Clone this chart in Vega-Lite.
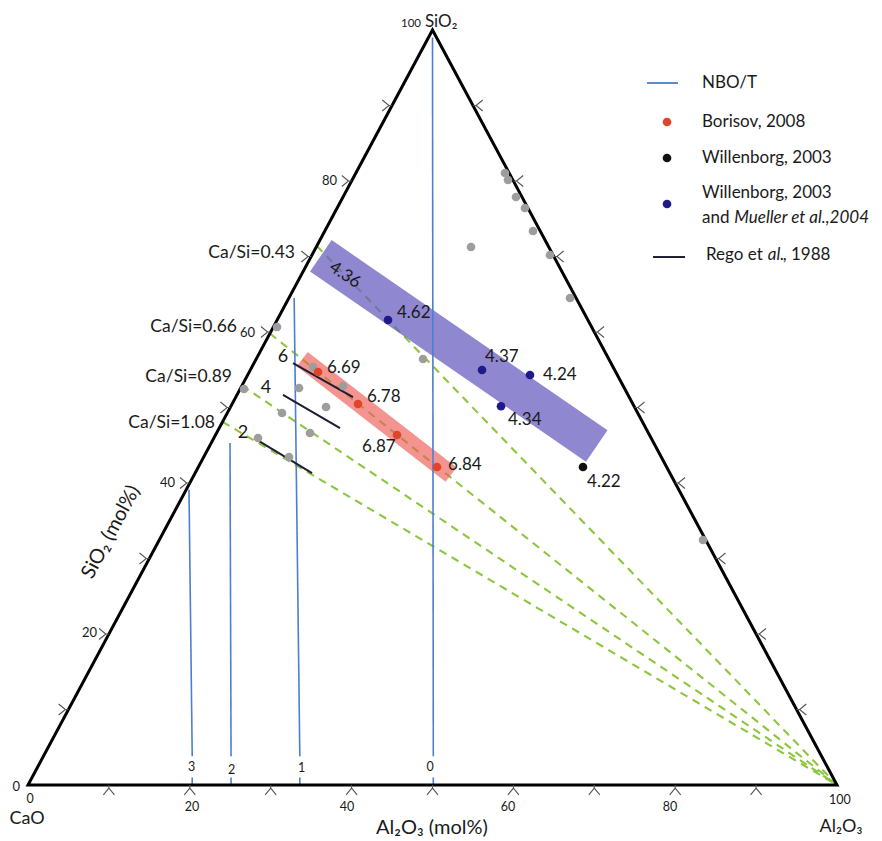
{
  "$schema": "https://vega.github.io/schema/vega-lite/v6.json",
  "width": 809,
  "height": 755,
  "autosize": {"type": "none"},
  "padding": {"left": 28, "top": 30, "right": 45, "bottom": 56},
  "background": "white",
  "config": {"view": {"stroke": null}, "text": {"font": "Lato"}},
  "datasets": {
    "tri": [
      {"o": 0, "x": 0, "y": 0}, {"o": 1, "x": 100, "y": 0}, {"o": 2, "x": 50, "y": 100},
      {"o": 3, "x": 0, "y": 0}, {"o": 4, "x": 1, "y": 0}
    ],
    "nbo": [
      {"k": "0a", "x": 50, "y": 99}, {"k": "0a", "x": 50.1, "y": 3.8},
      {"k": "0b", "x": 50.1, "y": 1.0}, {"k": "0b", "x": 50.1, "y": 0},
      {"k": "1a", "x": 32.9, "y": 64.5}, {"k": "1a", "x": 33.6, "y": 3.8},
      {"k": "1b", "x": 33.6, "y": 1.0}, {"k": "1b", "x": 33.6, "y": 0},
      {"k": "2a", "x": 24.97, "y": 45.3}, {"k": "2a", "x": 25.1, "y": 3.8},
      {"k": "2b", "x": 25.1, "y": 1.0}, {"k": "2b", "x": 25.1, "y": 0},
      {"k": "3a", "x": 19.9, "y": 39.1}, {"k": "3a", "x": 20.3, "y": 3.8},
      {"k": "3b", "x": 20.3, "y": 1.0}, {"k": "3b", "x": 20.3, "y": 0}
    ],
    "green": [
      {"k": "a", "x": 35.7, "y": 71.4}, {"k": "a", "x": 100, "y": 0},
      {"k": "c", "x": 29.9, "y": 59.8}, {"k": "c", "x": 100, "y": 0},
      {"k": "d", "x": 26.45, "y": 52.9}, {"k": "d", "x": 100, "y": 0},
      {"k": "e", "x": 24.05, "y": 48.1}, {"k": "e", "x": 100, "y": 0}
    ],
    "pband": [{"x": 36.2, "y": 70.1}, {"x": 70.3, "y": 44.9}],
    "rband": [{"x": 33.9, "y": 56.4}, {"x": 52.3, "y": 41.1}],
    "rego": [
      {"k": "6", "x": 32.76, "y": 55.89}, {"k": "6", "x": 40.17, "y": 51.39},
      {"k": "4", "x": 31.52, "y": 51.66}, {"k": "4", "x": 38.57, "y": 47.28},
      {"k": "2", "x": 28.31, "y": 45.7}, {"k": "2", "x": 35.11, "y": 41.32}
    ],
    "ticks": [
      {"side": "b", "x": 10, "y": 0}, {"side": "b", "x": 20, "y": 0}, {"side": "b", "x": 30, "y": 0},
      {"side": "b", "x": 40, "y": 0}, {"side": "b", "x": 50, "y": 0}, {"side": "b", "x": 60, "y": 0},
      {"side": "b", "x": 70, "y": 0}, {"side": "b", "x": 80, "y": 0}, {"side": "b", "x": 90, "y": 0},
      {"side": "l", "x": 5, "y": 10}, {"side": "l", "x": 10, "y": 20}, {"side": "l", "x": 15, "y": 30},
      {"side": "l", "x": 20, "y": 40}, {"side": "l", "x": 25, "y": 50}, {"side": "l", "x": 30, "y": 60},
      {"side": "l", "x": 35, "y": 70}, {"side": "l", "x": 40, "y": 80}, {"side": "l", "x": 45, "y": 90},
      {"side": "r", "x": 95, "y": 10}, {"side": "r", "x": 90, "y": 20}, {"side": "r", "x": 85, "y": 30},
      {"side": "r", "x": 80, "y": 40}, {"side": "r", "x": 75, "y": 50}, {"side": "r", "x": 70, "y": 60},
      {"side": "r", "x": 65, "y": 70}, {"side": "r", "x": 60, "y": 80}, {"side": "r", "x": 55, "y": 90}
    ],
    "pts": [
      {"s": "gray", "x": 58.96, "y": 81.06}, {"s": "gray", "x": 59.33, "y": 80.13},
      {"s": "gray", "x": 60.32, "y": 77.88}, {"s": "gray", "x": 61.43, "y": 76.42},
      {"s": "gray", "x": 62.42, "y": 73.38}, {"s": "gray", "x": 64.52, "y": 70.2},
      {"s": "gray", "x": 67.0, "y": 64.5}, {"s": "gray", "x": 54.76, "y": 71.26},
      {"s": "gray", "x": 83.44, "y": 32.45}, {"s": "gray", "x": 48.83, "y": 56.42},
      {"s": "gray", "x": 30.78, "y": 60.66}, {"s": "gray", "x": 26.7, "y": 52.45},
      {"s": "gray", "x": 33.5, "y": 52.58}, {"s": "gray", "x": 31.4, "y": 49.27},
      {"s": "gray", "x": 36.84, "y": 50.07}, {"s": "gray", "x": 34.86, "y": 46.62},
      {"s": "gray", "x": 28.43, "y": 45.96}, {"s": "gray", "x": 32.26, "y": 43.44},
      {"s": "gray", "x": 35.23, "y": 55.36}, {"s": "gray", "x": 38.94, "y": 52.85},
      {"s": "Borisov", "x": 35.85, "y": 54.7}, {"s": "Borisov", "x": 40.79, "y": 50.46},
      {"s": "Borisov", "x": 45.61, "y": 46.36}, {"s": "Borisov", "x": 50.56, "y": 42.12},
      {"s": "Mueller", "x": 44.5, "y": 61.59}, {"s": "Mueller", "x": 56.12, "y": 54.97},
      {"s": "Mueller", "x": 62.05, "y": 54.3}, {"s": "Mueller", "x": 58.47, "y": 50.17},
      {"s": "Willenborg", "x": 68.6, "y": 42.12},
      {"s": "Borisov", "x": 78.99, "y": 87.81},
      {"s": "Willenborg", "x": 78.99, "y": 83.05},
      {"s": "Mueller", "x": 78.99, "y": 76.95}
    ],
    "legline": [
      {"k": "nbo", "x": 76.51, "y": 92.98}, {"k": "nbo", "x": 80.35, "y": 92.98},
      {"k": "rego", "x": 77.26, "y": 69.93}, {"k": "rego", "x": 81.21, "y": 69.93}
    ],
    "labels": [
      {"g": "num", "t": "4.62", "x": 45.61, "y": 62.52},
      {"g": "num", "t": "4.37", "x": 56.49, "y": 56.69},
      {"g": "num", "t": "4.24", "x": 63.66, "y": 54.3},
      {"g": "num", "t": "4.34", "x": 59.33, "y": 48.34},
      {"g": "num", "t": "4.22", "x": 69.1, "y": 40.13},
      {"g": "num", "t": "6.69", "x": 36.96, "y": 55.23},
      {"g": "num", "t": "6.78", "x": 41.9, "y": 51.39},
      {"g": "num", "t": "6.87", "x": 41.29, "y": 44.77},
      {"g": "num", "t": "6.84", "x": 51.92, "y": 42.38},
      {"g": "rot", "t": "4.36", "x": 39.18, "y": 67.55},
      {"g": "rego", "t": "6", "x": 31.52, "y": 56.69},
      {"g": "rego", "t": "4", "x": 29.42, "y": 52.58},
      {"g": "rego", "t": "2", "x": 26.58, "y": 46.62},
      {"g": "casi", "t": "Ca/Si=0.43", "x": 33.0, "y": 70.46},
      {"g": "casi", "t": "Ca/Si=0.66", "x": 25.83, "y": 60.66},
      {"g": "casi", "t": "Ca/Si=0.89", "x": 25.22, "y": 54.04},
      {"g": "casi", "t": "Ca/Si=1.08", "x": 23.11, "y": 47.95},
      {"g": "ltick", "t": "80", "x": 38.2, "y": 80.0},
      {"g": "ltick", "t": "60", "x": 28.06, "y": 59.9},
      {"g": "ltick", "t": "40", "x": 18.17, "y": 40.0},
      {"g": "ltick", "t": "20", "x": 8.53, "y": 20.1},
      {"g": "ltick", "t": "0", "x": -0.99, "y": -0.3},
      {"g": "top100", "t": "100", "x": 48.58, "y": 100.8},
      {"g": "btick", "t": "0", "x": 0.25, "y": -1.9},
      {"g": "btick", "t": "20", "x": 20.27, "y": -2.9},
      {"g": "btick", "t": "40", "x": 39.43, "y": -2.9},
      {"g": "btick", "t": "60", "x": 59.33, "y": -2.9},
      {"g": "btick", "t": "80", "x": 79.36, "y": -2.9},
      {"g": "btick", "t": "100", "x": 100.37, "y": -2.0},
      {"g": "nbo", "t": "0", "x": 49.7, "y": 2.42},
      {"g": "nbo", "t": "1", "x": 33.83, "y": 2.2},
      {"g": "nbo", "t": "2", "x": 25.18, "y": 1.99},
      {"g": "nbo", "t": "3", "x": 20.23, "y": 2.43},
      {"g": "vtx", "t": "CaO", "x": -0.12, "y": -4.5},
      {"g": "vtx", "t": "Al₂O₃", "x": 100.5, "y": -5.56},
      {"g": "sio2", "t": "SiO₂", "x": 49.07, "y": 101.06},
      {"g": "title", "t": "Al₂O₃ (mol%)", "x": 49.94, "y": -5.7},
      {"g": "ytitle", "t": "SiO₂ (mol%)", "x": 10.26, "y": 33.5},
      {"g": "leg", "t": "NBO/T", "x": 83.31, "y": 92.98},
      {"g": "leg", "t": "Borisov, 2008", "x": 83.31, "y": 87.81},
      {"g": "leg", "t": "Willenborg, 2003", "x": 83.31, "y": 83.05},
      {"g": "leg", "t": "Willenborg, 2003", "x": 83.31, "y": 78.41},
      {"g": "leg", "t": "and", "x": 83.31, "y": 75.1},
      {"g": "leg", "t": "Rego et", "x": 83.81, "y": 70.2},
      {"g": "leg", "t": ", 1988", "x": 93.3, "y": 70.2},
      {"g": "legi", "t": "Mueller et al.,2004", "x": 87.3, "y": 75.1},
      {"g": "legi", "t": "al.", "x": 91.45, "y": 70.2}
    ]
  },
  "encoding": {
    "x": {"field": "x", "type": "quantitative", "scale": {"domain": [0, 100], "nice": false, "zero": false}, "axis": null},
    "y": {"field": "y", "type": "quantitative", "scale": {"domain": [0, 100], "nice": false, "zero": false}, "axis": null}
  },
  "layer": [
    {"data": {"name": "green"}, "mark": {"type": "line", "color": "#8cc63f", "strokeWidth": 2.1, "strokeDash": [8, 6]}, "encoding": {"detail": {"field": "k"}}},
    {"data": {"name": "pband"}, "mark": {"type": "line", "color": "#6a5fbf", "opacity": 0.75, "strokeWidth": 38, "strokeCap": "butt"}, "encoding": {}},
    {"data": {"name": "rband"}, "mark": {"type": "line", "color": "#ee5a55", "opacity": 0.65, "strokeWidth": 18, "strokeCap": "butt"}, "encoding": {}},
    {"data": {"name": "nbo"}, "mark": {"type": "line", "color": "#4d7fd1", "strokeWidth": 1.6}, "encoding": {"detail": {"field": "k"}}},
    {"data": {"name": "tri"}, "mark": {"type": "line", "color": "#000000", "strokeWidth": 3, "strokeJoin": "miter"}, "encoding": {"order": {"field": "o"}}},
    {"data": {"name": "ticks"}, "transform": [{"filter": "datum.side==='b'"}], "mark": {"type": "point", "shape": "M0,0L0,0.5M-0.9,1.6L0,0.5L0.9,1.6", "filled": false, "color": "#555555", "strokeWidth": 1.1, "opacity": 1, "size": 150, "angle": 0}, "encoding": {}},
    {"data": {"name": "ticks"}, "transform": [{"filter": "datum.side==='l'"}], "mark": {"type": "point", "shape": "M0,0L0,0.5M-0.9,1.6L0,0.5L0.9,1.6", "filled": false, "color": "#555555", "strokeWidth": 1.1, "opacity": 1, "size": 150, "angle": 90}, "encoding": {}},
    {"data": {"name": "ticks"}, "transform": [{"filter": "datum.side==='r'"}], "mark": {"type": "point", "shape": "M0,0L0,0.5M-0.9,1.6L0,0.5L0.9,1.6", "filled": false, "color": "#555555", "strokeWidth": 1.1, "opacity": 1, "size": 150, "angle": 270}, "encoding": {}},
    {"data": {"name": "rego"}, "mark": {"type": "line", "color": "#1c1c33", "strokeWidth": 2}, "encoding": {"detail": {"field": "k"}}},
    {"data": {"name": "legline"}, "transform": [{"filter": "datum.k==='nbo'"}], "mark": {"type": "line", "color": "#5b8bd0", "strokeWidth": 2}, "encoding": {}},
    {"data": {"name": "legline"}, "transform": [{"filter": "datum.k==='rego'"}], "mark": {"type": "line", "color": "#1c1c33", "strokeWidth": 2}, "encoding": {}},
    {"data": {"name": "pts"}, "mark": {"type": "circle", "size": 75, "opacity": 1}, "encoding": {"color": {"field": "s", "type": "nominal", "scale": {"domain": ["gray", "Borisov", "Willenborg", "Mueller"], "range": ["#9d9d9d", "#e0452b", "#111111", "#1f1a8a"]}, "legend": null}}},
    {"data": {"name": "labels"}, "transform": [{"filter": "datum.g==='num'"}], "mark": {"type": "text", "align": "left", "baseline": "middle", "fontSize": 17, "color": "#1a1a1a"}, "encoding": {"text": {"field": "t"}}},
    {"data": {"name": "labels"}, "transform": [{"filter": "datum.g==='rot'"}], "mark": {"type": "text", "align": "center", "baseline": "middle", "fontSize": 17, "angle": 34, "color": "#1a1a1a"}, "encoding": {"text": {"field": "t"}}},
    {"data": {"name": "labels"}, "transform": [{"filter": "datum.g==='rego'"}], "mark": {"type": "text", "align": "center", "baseline": "middle", "fontSize": 18, "color": "#1a1a1a"}, "encoding": {"text": {"field": "t"}}},
    {"data": {"name": "labels"}, "transform": [{"filter": "datum.g==='casi'"}], "mark": {"type": "text", "align": "right", "baseline": "middle", "fontSize": 17.5, "color": "#1a1a1a"}, "encoding": {"text": {"field": "t"}}},
    {"data": {"name": "labels"}, "transform": [{"filter": "datum.g==='ltick'"}], "mark": {"type": "text", "align": "right", "baseline": "middle", "fontSize": 13, "color": "#1a1a1a"}, "encoding": {"text": {"field": "t"}}},
    {"data": {"name": "labels"}, "transform": [{"filter": "datum.g==='top100'"}], "mark": {"type": "text", "align": "right", "baseline": "middle", "fontSize": 11.5, "color": "#1a1a1a"}, "encoding": {"text": {"field": "t"}}},
    {"data": {"name": "labels"}, "transform": [{"filter": "datum.g==='btick'"}], "mark": {"type": "text", "align": "center", "baseline": "middle", "fontSize": 12.5, "color": "#1a1a1a"}, "encoding": {"text": {"field": "t"}}},
    {"data": {"name": "labels"}, "transform": [{"filter": "datum.g==='nbo'"}], "mark": {"type": "text", "align": "center", "baseline": "middle", "fontSize": 12.5, "color": "#1a1a1a"}, "encoding": {"text": {"field": "t"}}},
    {"data": {"name": "labels"}, "transform": [{"filter": "datum.g==='vtx'"}], "mark": {"type": "text", "align": "center", "baseline": "middle", "fontSize": 18, "color": "#1a1a1a"}, "encoding": {"text": {"field": "t"}}},
    {"data": {"name": "labels"}, "transform": [{"filter": "datum.g==='sio2'"}], "mark": {"type": "text", "align": "left", "baseline": "middle", "fontSize": 17, "color": "#1a1a1a"}, "encoding": {"text": {"field": "t"}}},
    {"data": {"name": "labels"}, "transform": [{"filter": "datum.g==='title'"}], "mark": {"type": "text", "align": "center", "baseline": "middle", "fontSize": 20, "color": "#1a1a1a"}, "encoding": {"text": {"field": "t"}}},
    {"data": {"name": "labels"}, "transform": [{"filter": "datum.g==='ytitle'"}], "mark": {"type": "text", "align": "center", "baseline": "middle", "fontSize": 20, "angle": 298, "color": "#1a1a1a"}, "encoding": {"text": {"field": "t"}}},
    {"data": {"name": "labels"}, "transform": [{"filter": "datum.g==='leg'"}], "mark": {"type": "text", "align": "left", "baseline": "middle", "fontSize": 17, "color": "#1a1a1a"}, "encoding": {"text": {"field": "t"}}},
    {"data": {"name": "labels"}, "transform": [{"filter": "datum.g==='legi'"}], "mark": {"type": "text", "align": "left", "baseline": "middle", "fontSize": 17, "fontStyle": "italic", "color": "#1a1a1a"}, "encoding": {"text": {"field": "t"}}}
  ]
}
